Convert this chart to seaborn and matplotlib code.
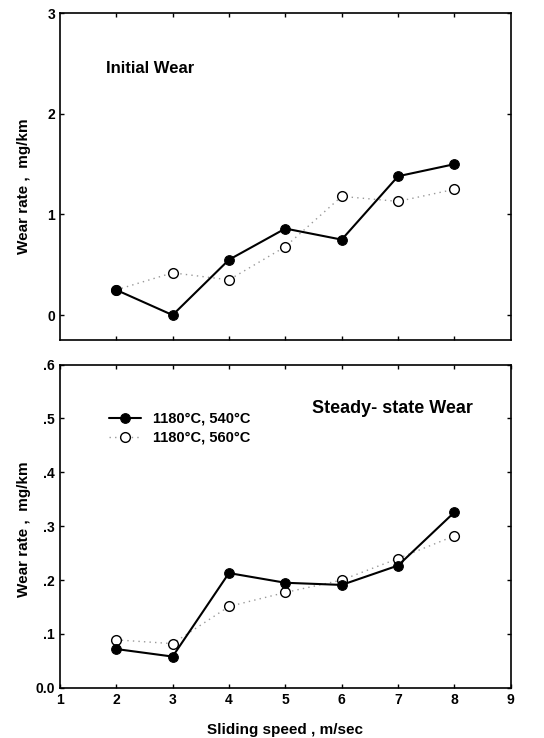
import matplotlib
matplotlib.use("Agg")
import matplotlib.pyplot as plt
import seaborn as sns
import pandas as pd

sns.set_theme(style="white")
plt.rcParams['font.family'] = ['Liberation Sans', 'DejaVu Sans']
plt.rcParams['font.weight'] = 'bold'
plt.rcParams['text.color'] = 'black'
plt.rcParams['axes.labelcolor'] = 'black'

speed = [2, 3, 4, 5, 6, 7, 8]
initial_540 = [0.25, 0.00, 0.55, 0.86, 0.75, 1.38, 1.50]
initial_560 = [0.25, 0.42, 0.35, 0.68, 1.18, 1.13, 1.25]
steady_540 = [0.072, 0.058, 0.213, 0.195, 0.191, 0.227, 0.326]
steady_560 = [0.089, 0.082, 0.151, 0.177, 0.200, 0.240, 0.282]
label_540 = "1180\u00b0C, 540\u00b0C"
label_560 = "1180\u00b0C, 560\u00b0C"

fig = plt.figure(figsize=(5.44, 7.38), dpi=100)
ax1 = fig.add_axes([0.110, 0.539, 0.829, 0.443])
ax2 = fig.add_axes([0.110, 0.068, 0.829, 0.438])

def draw(ax, y540, y560, label_y):
    d1 = pd.DataFrame({"speed": speed, "rate": y540})
    d2 = pd.DataFrame({"speed": speed, "rate": y560})
    sns.lineplot(data=d2, x="speed", y="rate", ax=ax, color="#999999",
                 linestyle=(0, (1, 3)), linewidth=1.0, marker="o",
                 markersize=7, markerfacecolor="white", markeredgecolor="black",
                 markeredgewidth=1.0, label=label_560, zorder=2)
    sns.lineplot(data=d1, x="speed", y="rate", ax=ax, color="black",
                 linewidth=1.5, marker="o", markersize=7,
                 markerfacecolor="black", markeredgecolor="black",
                 label=label_540, zorder=3)
    ax.set_xlim(1, 9)
    for s in ax.spines.values():
        s.set_color("black")
        s.set_linewidth(1.2)
    ax.tick_params(direction="in", length=3, width=1, colors="black",
                   top=True, right=True, bottom=True, left=True,
                   labelsize=10)
    ax.set_ylabel("Wear rate ,  mg/km", fontsize=11, fontweight="bold", color="black")
    ax.yaxis.set_label_coords(-0.064, label_y)

draw(ax1, initial_540, initial_560, 0.47)
ax1.set_ylim(-0.25, 3)
ax1.set_yticks([0, 1, 2, 3])
ax1.set_yticklabels(["0", "1", "2", "3"], fontweight="bold")
ax1.set_xticks(speed)
ax1.set_xticklabels([])
ax1.set_xlabel("")
ax1.get_legend().remove()
ax1.text(0.103, 0.83, "Initial Wear", transform=ax1.transAxes,
         fontsize=12, fontweight="bold", color="black", va="center")

draw(ax2, steady_540, steady_560, 0.49)
ax2.set_ylim(0, 0.6)
ax2.set_yticks([0, 0.1, 0.2, 0.3, 0.4, 0.5, 0.6])
ax2.set_yticklabels(["0.0", ".1", ".2", ".3", ".4", ".5", ".6"], fontweight="bold")
ax2.set_xticks(range(1, 10))
ax2.set_xticklabels([str(i) for i in range(1, 10)], fontweight="bold")
ax2.set_xlabel("Sliding speed , m/sec", fontsize=11, fontweight="bold",
               color="black", labelpad=12)
ax2.text(0.56, 0.865, "Steady- state Wear", transform=ax2.transAxes,
         fontsize=13, fontweight="bold", color="black", va="center")
h, l = ax2.get_legend_handles_labels()
leg = ax2.legend([h[1], h[0]], [l[1], l[0]], loc="upper left",
                 bbox_to_anchor=(0.08, 0.895), frameon=False,
                 prop={"weight": "bold", "size": 10.5}, handlelength=2.2,
                 labelspacing=0.35)
for t in leg.get_texts():
    t.set_color("black")

fig.savefig("out.png", dpi=100)
